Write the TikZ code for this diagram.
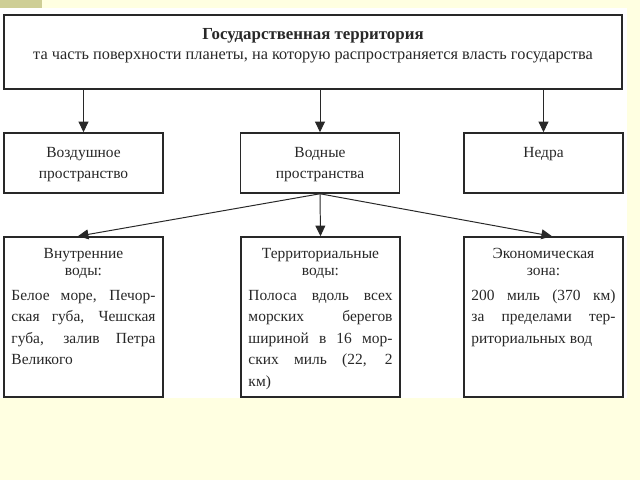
\documentclass[tikz,border=0pt]{standalone}
\usepackage{fontspec}
\setmainfont{Liberation Serif}
\usetikzlibrary{arrows.meta, positioning}
\definecolor{cream}{RGB}{255,255,225}
\definecolor{khaki}{RGB}{206,206,150}
\definecolor{ink}{RGB}{40,40,40}
\tikzset{edge/.style = {-{Triangle[width=7pt,length=7.5pt]}, ink, line width=0.7pt}}
\tikzset{box/.style = {draw=ink, line width=1.1pt, minimum width=3.975cm, minimum height=1.5cm, inner sep=0pt}}
\tikzset{tall/.style = {box, minimum height=4cm}}
\tikzset{txt/.style = {inner sep=0pt, text=ink, align=center, anchor=base,
  font=\fontsize{11}{15}\selectfont}}
\tikzset{head/.style = {txt, font=\fontsize{11}{12}\selectfont}}
\tikzset{body/.style = {txt, align=justify, text width=3.6cm,
  font=\fontsize{11}{15.3}\selectfont,
  execute at begin node={\tolerance=10000\relax\hyphenpenalty=10000\relax}}}

\begin{document}
\begin{tikzpicture}[x=0.025cm, y=-0.025cm]
    % slide background
    \fill[cream] (0,0) rectangle (640,480);
    \fill[white] (0,8) rectangle (627,398);
    \fill[khaki] (0,0) rectangle (42,8);

    % boxes
    \node[box, minimum width=15.45cm, minimum height=1.85cm] (state) at (313,52) {};
    \node[box] (air) at (83.5,163) {};
    \node[box] (water) at (320,163) {};
    \node[box] (subsoil) at (543.5,163) {};
    \node[tall] (inland) at (83.5,317) {};
    \node[tall] (terr) at (320.5,317) {};
    \node[tall] (econ) at (543.5,317) {};

    % texts
    \node[txt, font=\fontsize{12}{14}\selectfont\bfseries] (statetitle) at ([yshift=-17.8pt]state.north) {Государственная территория};
    \node[txt, font=\fontsize{11.6}{14}\selectfont] (statesub) at ([yshift=-32pt]state.north) {та часть поверхности планеты, на которую распространяется власть государства};
    \node[txt] (airtext) at ([yshift=-32.7pt]air.north) {Воздушное\\пространство};
    \node[txt] (watertext) at ([yshift=-32.7pt]water.north) {Водные\\пространства};
    \node[txt] (subsoiltext) at ([yshift=-17.8pt]subsoil.north) {Недра};

    \node[head] (inlandhead) at ([yshift=-27.7pt]inland.north) {Внутренние\\воды:};
    \node[body] (inlandbody) at ([yshift=-45.5pt]inland.north) {Белое море, Печор-\linebreak ская губа, Чешская\linebreak губа, залив Петра\linebreak Великого};
    \node[head] (terrhead) at ([yshift=-27.7pt]terr.north) {Территориальные\\воды:};
    \node[body] (terrbody) at ([yshift=-45.5pt]terr.north) {Полоса вдоль всех\linebreak морских берегов\linebreak шириной в 16 мор-\linebreak ских миль (22, 2\linebreak км)};
    \node[head] (econhead) at ([yshift=-27.7pt]econ.north) {Экономическая\\зона:};
    \node[body] (econbody) at ([yshift=-45.5pt]econ.north) {200 миль (370 км)\linebreak за пределами тер-\linebreak риториальных вод};

    % arrows from the territory
    \draw[edge] (air.north |- state.south) -- (air.north);
    \draw[edge] (water.north |- state.south) -- (water.north);
    \draw[edge] (subsoil.north |- state.south) -- (subsoil.north);

    % arrows from the waters
    \draw[edge] (water.south) -- ([xshift=-4pt]inland.north);
    \draw[edge] (water.south) -- (terr.north);
    \draw[edge] (water.south) -- ([xshift=6pt]econ.north);
\end{tikzpicture}
\end{document}
